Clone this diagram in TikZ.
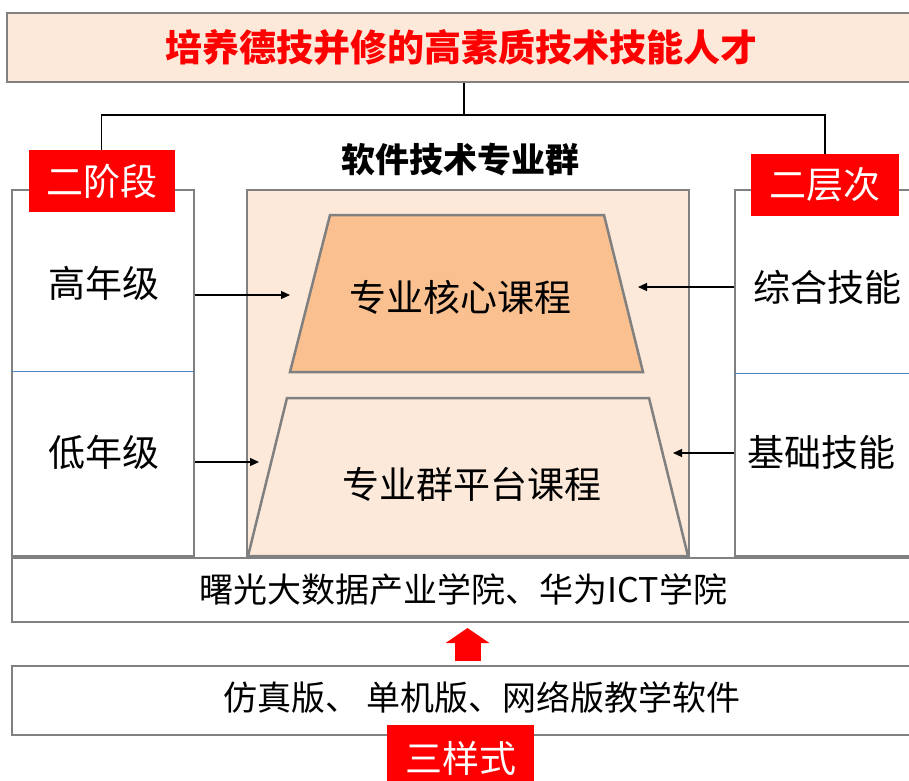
\documentclass[tikz,border=0pt]{standalone}
\usepackage{fontspec}
\setmainfont{Noto Sans CJK SC}
\usetikzlibrary{arrows.meta,calc}
\definecolor{peach}{HTML}{FDE9D9}
\definecolor{coreorange}{HTML}{FAC090}
\definecolor{framegray}{HTML}{808080}
\definecolor{tagred}{HTML}{FF0000}
\definecolor{splitblue}{HTML}{4F81BD}
\tikzset{
	frame/.style={draw=framegray,line width=2.5pt,inner sep=0pt},
	tag/.style={fill=tagred,text=white,inner sep=0pt,font=\fontsize{37}{40}\selectfont},
	word/.style={inner sep=0pt,font=\fontsize{37}{40}\selectfont},
	smallword/.style={inner sep=0pt,font=\fontsize{34}{38}\selectfont},
	tree/.style={draw=black,line width=1.3pt},
	split/.style={draw=splitblue,line width=1pt},
	directed/.style={arrows={-Triangle[length=9pt,width=8pt]},line width=1.2pt},
	lift/.style={draw=tagred,line width=26pt,arrows={-Triangle[length=15pt,width=43pt]}}
	}
\begin{document}
\begin{tikzpicture}[x=1pt,y=-1pt]
	\useasboundingbox (0,0) rectangle (909,780);
	\clip (0,0) rectangle (909,780);
	% goal on top
	\node[frame,fill=peach,minimum width=908pt,minimum height=69pt,text=tagred,
		font=\fontsize{37}{40}\selectfont\bfseries] (goal) at (461,47.5) {培养德技并修的高素质技术技能人才};
	\node[font=\fontsize{34}{38}\selectfont\bfseries,inner sep=0pt] (grouptitle) at (460,160) {软件技术专业群};

	% three columns
	\node[frame,minimum width=182pt,minimum height=366pt] (stage) at (103,373) {};
	\node[frame,fill=peach,minimum width=442pt,minimum height=366pt] (group) at (468,373) {};
	\node[frame,minimum width=180pt,minimum height=366pt] (skill) at (825,373) {};
	\draw[split] (stage.west |- 0,371) -- (stage.east |- 0,371);
	\draw[split] (skill.west |- 0,373) -- (skill.east |- 0,373);

	% course layers
	\draw[frame,fill=coreorange] (330,215) -- (604,215) -- (643,372) -- (290,372) -- cycle;
	\draw[frame,fill=peach] (287,398) -- (649,398) -- (688,556) -- (248,556) -- cycle;
	\node[word] (core) at (460,297) {专业核心课程};
	\node[word] (platform) at (472,484) {专业群平台课程};

	\node[word] (high) at (104,283) {高年级};
	\node[word] (low) at (104,452) {低年级};
	\node[word] (overall) at (827,287) {综合技能};
	\node[word] (basic) at (821,452) {基础技能};

	\coordinate (highend) at (290,295);
	\coordinate (lowend) at (259,462);
	\coordinate (overallend) at (638,287);
	\coordinate (basicend) at (673,453);
	\draw[directed] (stage.east |- highend) -- (highend);
	\draw[directed] (stage.east |- lowend) -- (lowend);
	\draw[directed] (skill.west |- overallend) -- (overallend);
	\draw[directed] (skill.west |- basicend) -- (basicend);

	% bases
	\node[frame,minimum width=903pt,minimum height=64pt,smallword] (college) at (463.5,590) {曙光大数据产业学院、华为ICT学院};
	\node[frame,minimum width=903pt,minimum height=69pt] (software) at (463.5,700.5) {};
	\node[smallword] (softtext) at (482,697) {仿真版、\ 单机版、网络版教学软件};
	\coordinate (liftfoot) at (467.5,661);
	\coordinate (lifttip) at (467.5,628);
	\draw[lift] (liftfoot) -- (lifttip);

	% red tags
	\node[tag,minimum width=146pt,minimum height=62pt] (stagetag) at (101.5,181) {二阶段};
	\node[tag,minimum width=148pt,minimum height=62pt] (leveltag) at (825,185) {二层次};
	\node[tag,minimum width=147pt,minimum height=66pt] (styletag) at (460.5,758) {三样式};

	\coordinate (fork) at (464,115);
	\draw[tree] (goal.south -| fork) -- (fork);
	\draw[tree] (stagetag.north) |- (fork) -| (leveltag.north);
\end{tikzpicture}
\end{document}
